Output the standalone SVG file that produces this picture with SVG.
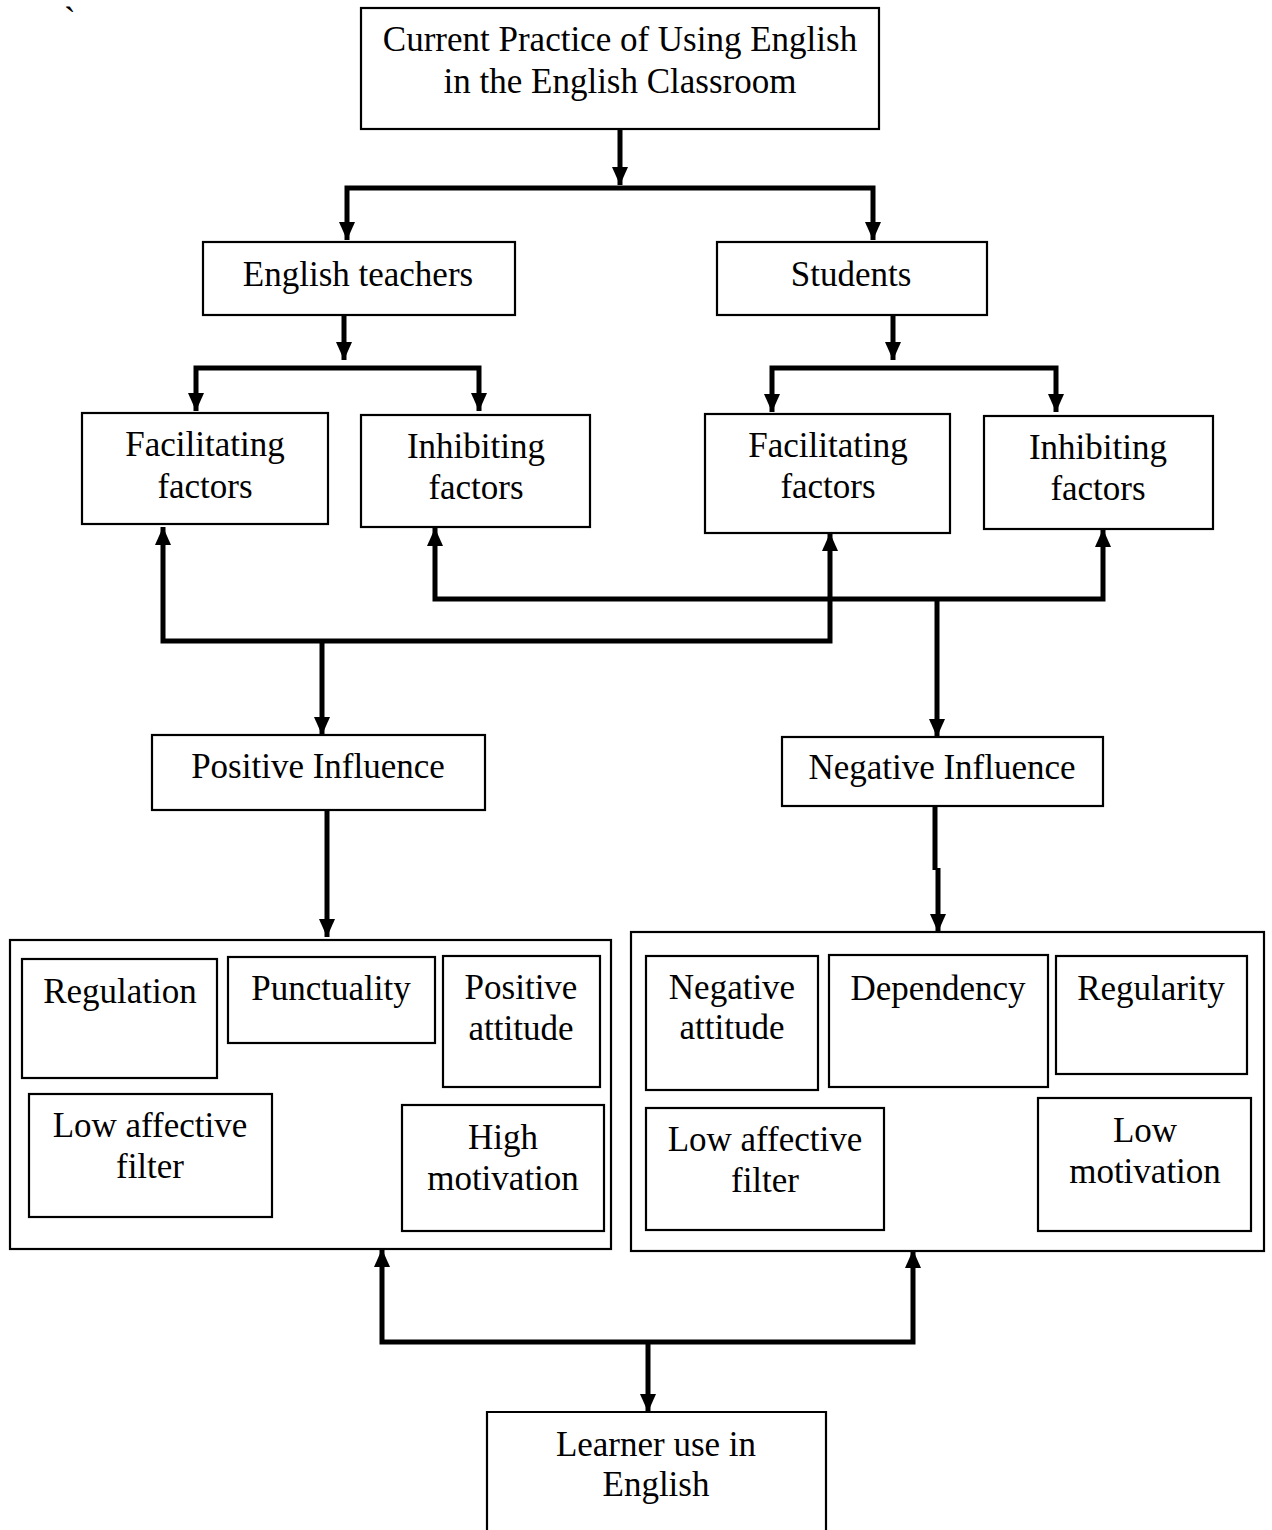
<svg xmlns="http://www.w3.org/2000/svg" width="1272" height="1530" viewBox="0 0 1272 1530">
<style>
.box{fill:#fff;stroke:#000;stroke-width:2.2}
.t{font-family:"Liberation Serif","Times New Roman",serif;font-size:35px;fill:#000;text-anchor:middle}
.c{fill:none;stroke:#000;stroke-width:5;stroke-linejoin:miter}
</style>
<defs>
<marker id="ah" viewBox="0 0 18 16" refX="18" refY="8" markerWidth="18" markerHeight="16" markerUnits="userSpaceOnUse" orient="auto-start-reverse">
<path d="M0,0 L18,8 L0,16 z" fill="#000"/>
</marker>
</defs>
<rect width="1272" height="1530" fill="#fff"/>
<text class="t" x="64" y="32" style="text-anchor:start">`</text>

<g id="connectors">
<path class="c" d="M620,130 V185" marker-end="url(#ah)"/>
<path class="c" d="M347,240 V188 H873 V240" marker-start="url(#ah)" marker-end="url(#ah)"/>
<path class="c" d="M344,316 V360" marker-end="url(#ah)"/>
<path class="c" d="M196,411 V368 H479 V411" marker-start="url(#ah)" marker-end="url(#ah)"/>
<path class="c" d="M893,316 V360" marker-end="url(#ah)"/>
<path class="c" d="M772,412 V368 H1056 V412" marker-start="url(#ah)" marker-end="url(#ah)"/>
<path class="c" d="M163,527 V641 H830 V533" marker-start="url(#ah)" marker-end="url(#ah)"/>
<path class="c" d="M435,528 V599 H1103 V529" marker-start="url(#ah)" marker-end="url(#ah)"/>
<path class="c" d="M322,641 V735" marker-end="url(#ah)"/>
<path class="c" d="M937,599 V737" marker-end="url(#ah)"/>
<path class="c" d="M327,811 V937" marker-end="url(#ah)"/>
<path class="c" d="M935,807 V870 M938,868 V932" marker-end="url(#ah)"/>
<path class="c" d="M382,1249 V1342 H913 V1250" marker-start="url(#ah)" marker-end="url(#ah)"/>
<path class="c" d="M648,1342 V1412" marker-end="url(#ah)"/>
</g>

<g id="top">
<rect class="box" x="361" y="8" width="518" height="121"/>
<text class="t" x="620" y="51">Current Practice of Using English</text>
<text class="t" x="620" y="93">in the English Classroom</text>
</g>
<g id="teachers">
<rect class="box" x="203" y="242" width="312" height="73"/>
<text class="t" x="358" y="286">English teachers</text>
</g>
<g id="students">
<rect class="box" x="717" y="242" width="270" height="73"/>
<text class="t" x="851" y="286">Students</text>
</g>
<g id="t-facilitating">
<rect class="box" x="82" y="413" width="246" height="111"/>
<text class="t" x="205" y="456">Facilitating</text>
<text class="t" x="205" y="498">factors</text>
</g>
<g id="t-inhibiting">
<rect class="box" x="361" y="415" width="229" height="112"/>
<text class="t" x="476" y="458">Inhibiting</text>
<text class="t" x="476" y="499">factors</text>
</g>
<g id="s-facilitating">
<rect class="box" x="705" y="414" width="245" height="119"/>
<text class="t" x="828" y="457">Facilitating</text>
<text class="t" x="828" y="498">factors</text>
</g>
<g id="s-inhibiting">
<rect class="box" x="984" y="416" width="229" height="113"/>
<text class="t" x="1098" y="459">Inhibiting</text>
<text class="t" x="1098" y="500">factors</text>
</g>
<g id="positive">
<rect class="box" x="152" y="735" width="333" height="75"/>
<text class="t" x="318" y="778">Positive Influence</text>
</g>
<g id="negative">
<rect class="box" x="782" y="737" width="321" height="69"/>
<text class="t" x="942" y="779">Negative Influence</text>
</g>
<g id="positive-group">
<rect class="box" x="10" y="940" width="601" height="309"/>
<g id="regulation">
<rect class="box" x="22" y="959" width="195" height="119"/>
<text class="t" x="120" y="1003">Regulation</text>
</g>
<g id="punctuality">
<rect class="box" x="228" y="957" width="207" height="86"/>
<text class="t" x="331" y="1000">Punctuality</text>
</g>
<g id="positive-attitude">
<rect class="box" x="443" y="956" width="157" height="131"/>
<text class="t" x="521" y="999">Positive</text>
<text class="t" x="521" y="1040">attitude</text>
</g>
<g id="low-affective-left">
<rect class="box" x="29" y="1094" width="243" height="123"/>
<text class="t" x="150" y="1137">Low affective</text>
<text class="t" x="150" y="1178">filter</text>
</g>
<g id="high-motivation">
<rect class="box" x="402" y="1105" width="202" height="126"/>
<text class="t" x="503" y="1149">High</text>
<text class="t" x="503" y="1190">motivation</text>
</g>
</g>
<g id="negative-group">
<rect class="box" x="631" y="932" width="633" height="319"/>
<g id="negative-attitude">
<rect class="box" x="646" y="956" width="172" height="134"/>
<text class="t" x="732" y="999">Negative</text>
<text class="t" x="732" y="1039">attitude</text>
</g>
<g id="dependency">
<rect class="box" x="829" y="955" width="219" height="132"/>
<text class="t" x="938" y="1000">Dependency</text>
</g>
<g id="regularity">
<rect class="box" x="1056" y="956" width="191" height="118"/>
<text class="t" x="1151" y="1000">Regularity</text>
</g>
<g id="low-affective-right">
<rect class="box" x="646" y="1108" width="238" height="122"/>
<text class="t" x="765" y="1151">Low affective</text>
<text class="t" x="765" y="1192">filter</text>
</g>
<g id="low-motivation">
<rect class="box" x="1038" y="1098" width="213" height="133"/>
<text class="t" x="1145" y="1142">Low</text>
<text class="t" x="1145" y="1183">motivation</text>
</g>
</g>
<g id="learner">
<path class="box" d="M487,1540 V1412 H826 V1540"/>
<text class="t" x="656" y="1456">Learner use in</text>
<text class="t" x="656" y="1496">English</text>
</g>
</svg>
